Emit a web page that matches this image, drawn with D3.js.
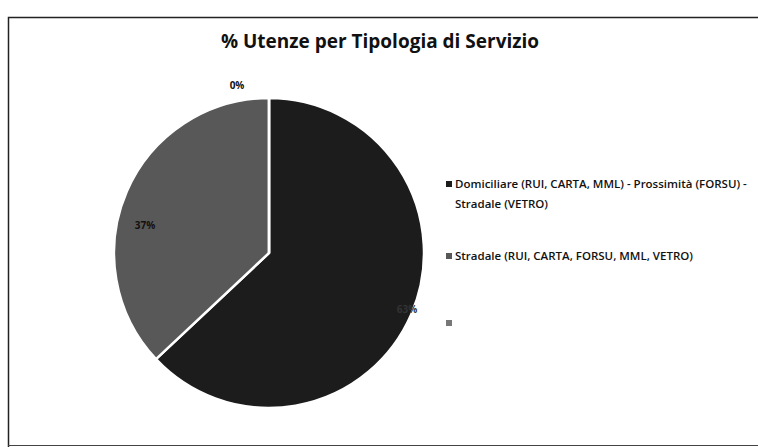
<!DOCTYPE html>
<html><head><meta charset="utf-8">
<script src="https://cdn.jsdelivr.net/npm/d3@7/dist/d3.min.js"></script>
<style>body{margin:0;background:#fff}svg{display:block}</style>
</head><body>
<svg id="c" width="758" height="447"></svg>
<script>
const categories = ["Domiciliare (RUI, CARTA, MML) - Prossimità (FORSU) - Stradale (VETRO)", "Stradale (RUI, CARTA, FORSU, MML, VETRO)", ""];
const legendLines = [["Domiciliare (RUI, CARTA, MML) - Prossimità (FORSU) -", "Stradale (VETRO)"], ["Stradale (RUI, CARTA, FORSU, MML, VETRO)"], [""]];
const values = [63, 37, 0];
const labels = ["63%", "37%", "0%"];
const colors = ["#1c1c1c", "#585858", "#9a9a9a"];

const svg = d3.select("#c");
// frame
svg.append("path").attr("d","M8.5,447 V17.5 H758").attr("fill","none").attr("stroke","#222").attr("stroke-width",1.5);
svg.append("line").attr("x1",8).attr("x2",758).attr("y1",445.5).attr("y2",445.5).attr("stroke","#444").attr("stroke-width",1.2);

svg.append("text").attr("x",380).attr("y",48).attr("text-anchor","middle")
  .attr("font-family","Open Sans, sans-serif").attr("font-weight","bold").attr("font-size",19).attr("fill","#111")
  .text("% Utenze per Tipologia di Servizio");

const cx = 269, cy = 253, r = 155;
const pie = d3.pie().sort(null).value(d => d)(values);
const arc = d3.arc().innerRadius(0).outerRadius(r);
const g = svg.append("g").attr("transform", `translate(${cx},${cy})`);
g.selectAll("path").data(pie).join("path")
  .attr("d", arc).attr("fill", (d,i) => colors[i])
  .attr("stroke", "#fff").attr("stroke-width", 2.5);

const labelPos = [[138, 60], [-124, -24], [-32, -164]];
g.selectAll("text.lab").data(pie).join("text").attr("class","lab")
  .attr("x", (d,i) => labelPos[i][0]).attr("y", (d,i) => labelPos[i][1])
  .attr("text-anchor","middle").attr("font-family","Open Sans, sans-serif").attr("font-size",10).attr("font-weight","bold")
  .attr("fill", (d,i) => i===0 ? "#333" : "#111")
  .text((d,i) => labels[i]);

const legendY = [188, 260, 327];
const lg = svg.append("g");
categories.forEach((c,i) => {
  const e = lg.append("g");
  e.append("rect").attr("x", 446).attr("y", legendY[i]-7).attr("width",6).attr("height",6).attr("fill", i===2 ? "#777" : colors[i]);
  const t = e.append("text").attr("font-family","Open Sans, sans-serif").attr("font-size",11.5).attr("font-weight",600).attr("fill","#111")
    .attr("letter-spacing", 0);
  legendLines[i].forEach((l,j) => t.append("tspan").attr("x",455).attr("y", legendY[i] + j*20).text(l));
});
</script>
</body></html>
